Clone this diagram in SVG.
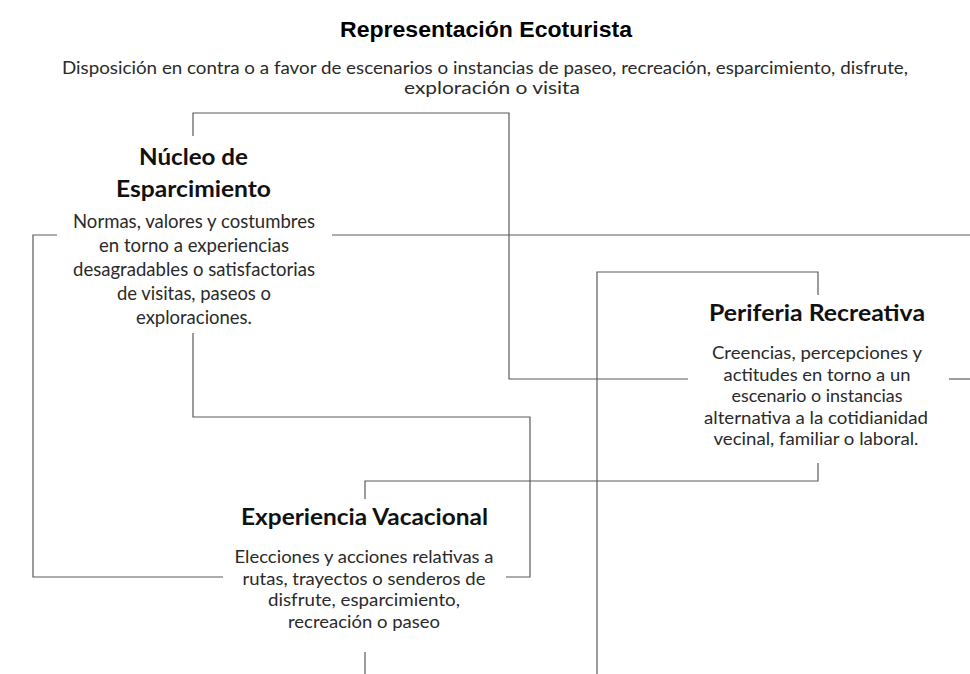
<svg xmlns="http://www.w3.org/2000/svg" width="970" height="674" viewBox="0 0 970 674">
<style>
.title{font-family:"Liberation Sans",Arial,sans-serif;font-weight:bold;font-size:22.5px;fill:#000;text-anchor:middle}
.sub{font-family:Lato,"Open Sans",sans-serif;font-size:17px;fill:#2a2a2a;text-anchor:middle}
.head{font-family:Lato,"Open Sans",sans-serif;font-weight:bold;font-size:23px;fill:#111;text-anchor:middle}
.body{font-family:Lato,"Open Sans",sans-serif;font-size:18px;fill:#2a2a2a;text-anchor:middle}
.b1{font-size:19px}
.conn{fill:none;stroke:#5a5a5a;stroke-width:1.2}
</style>
<rect width="970" height="674" fill="#fff"/>
<g id="connectors">
<polyline class="conn" points="193,136 193,113 509,113 509,379 688,379"/>
<line class="conn" x1="949" y1="379" x2="970" y2="379"/>
<polyline class="conn" points="57,235 33,235 33,577 223,577"/>
<line class="conn" x1="332" y1="235" x2="970" y2="235"/>
<polyline class="conn" points="193,333 193,417 530,417 530,577 506,577"/>
<polyline class="conn" points="597,674 597,272 818,272 818,295"/>
<polyline class="conn" points="365,499 365,481 818,481 818,463"/>
<line class="conn" x1="365" y1="652" x2="365" y2="674"/>
</g>
<g id="title">
<text class="title" x="486" y="37" textLength="292" lengthAdjust="spacingAndGlyphs">Representación Ecoturista</text>
<text class="sub" x="485" y="74" textLength="846" lengthAdjust="spacingAndGlyphs">Disposición en contra o a favor de escenarios o instancias de paseo, recreación, esparcimiento, disfrute,</text>
<text class="sub" x="492" y="94" textLength="176" lengthAdjust="spacingAndGlyphs">exploración o visita</text>
</g>
<g id="nucleo">
<text class="head" x="193.5" y="165" textLength="109" lengthAdjust="spacingAndGlyphs">Núcleo de</text>
<text class="head" x="193.5" y="197" textLength="155" lengthAdjust="spacingAndGlyphs">Esparcimiento</text>
<text class="body b1" x="194" y="228" textLength="242" lengthAdjust="spacingAndGlyphs">Normas, valores y costumbres</text>
<text class="body b1" x="194" y="252" textLength="190" lengthAdjust="spacingAndGlyphs">en torno a experiencias</text>
<text class="body b1" x="194" y="276" textLength="242" lengthAdjust="spacingAndGlyphs">desagradables o satisfactorias</text>
<text class="body b1" x="194" y="300" textLength="154" lengthAdjust="spacingAndGlyphs">de visitas, paseos o</text>
<text class="body b1" x="194" y="324" textLength="116" lengthAdjust="spacingAndGlyphs">exploraciones.</text>
</g>
<g id="periferia">
<text class="head" x="817" y="321" textLength="216" lengthAdjust="spacingAndGlyphs">Periferia Recreativa</text>
<text class="body" x="817" y="359" textLength="210" lengthAdjust="spacingAndGlyphs">Creencias, percepciones y</text>
<text class="body" x="817" y="380.5" textLength="187" lengthAdjust="spacingAndGlyphs">actitudes en torno a un</text>
<text class="body" x="817" y="402" textLength="171" lengthAdjust="spacingAndGlyphs">escenario o instancias</text>
<text class="body" x="816" y="423.5" textLength="224" lengthAdjust="spacingAndGlyphs">alternativa a la cotidianidad</text>
<text class="body" x="816" y="445" textLength="205" lengthAdjust="spacingAndGlyphs">vecinal, familiar o laboral.</text>
</g>
<g id="experiencia">
<text class="head" x="364.5" y="525" textLength="247" lengthAdjust="spacingAndGlyphs">Experiencia Vacacional</text>
<text class="body" x="364" y="563" textLength="259" lengthAdjust="spacingAndGlyphs">Elecciones y acciones relativas a</text>
<text class="body" x="364" y="584.5" textLength="243" lengthAdjust="spacingAndGlyphs">rutas, trayectos o senderos de</text>
<text class="body" x="364" y="606" textLength="192" lengthAdjust="spacingAndGlyphs">disfrute, esparcimiento,</text>
<text class="body" x="364" y="627.5" textLength="152" lengthAdjust="spacingAndGlyphs">recreación o paseo</text>
</g>
</svg>
